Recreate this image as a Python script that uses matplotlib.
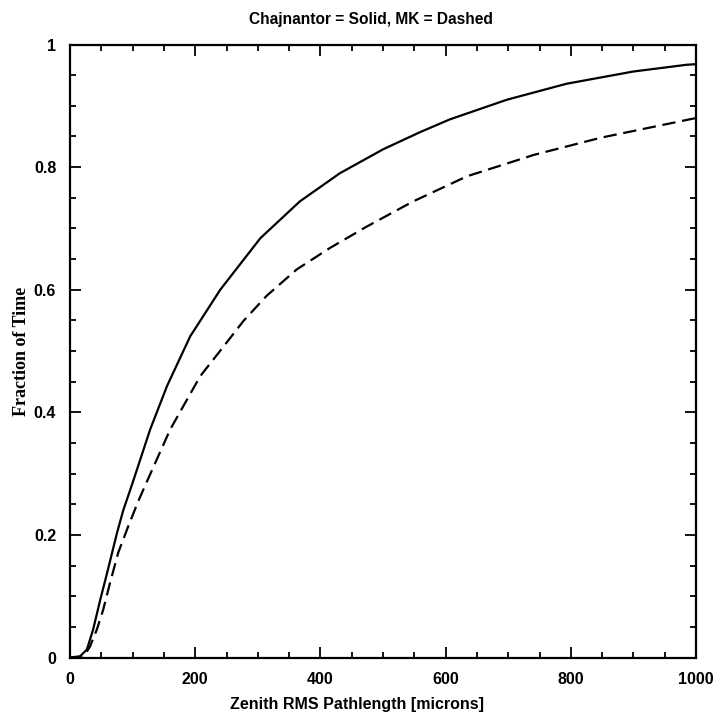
import numpy as np
import matplotlib
matplotlib.use('Agg')
import matplotlib.pyplot as plt
from matplotlib.ticker import MultipleLocator, FuncFormatter

# values
x_solid = [0, 16, 27, 37, 48, 59, 67, 75, 85, 100, 128, 155, 192, 240, 304, 367,
           431, 500, 559, 607, 698, 793, 900, 985, 1000]
y_solid = [0, 0.002, 0.013, 0.046, 0.093, 0.137, 0.170, 0.203, 0.240, 0.285,
           0.372, 0.443, 0.524, 0.600, 0.684, 0.744, 0.790, 0.829, 0.857, 0.878,
           0.910, 0.936, 0.956, 0.967, 0.968]

x_dash = [0, 21, 32, 43, 53, 64, 77, 93, 109, 125, 160, 208, 245, 277, 314, 362,
          415, 474, 548, 634, 741, 848, 990, 1000]
y_dash = [0, 0, 0.018, 0.046, 0.078, 0.122, 0.171, 0.214, 0.255, 0.292, 0.372,
          0.459, 0.507, 0.549, 0.590, 0.633, 0.668, 0.703, 0.744, 0.785, 0.820,
          0.848, 0.878, 0.880]

x_ticks = [0, 200, 400, 600, 800, 1000]
y_ticks = [0, 0.2, 0.4, 0.6, 0.8, 1]

fig = plt.figure(figsize=(7.13, 7.16), dpi=100)
ax = fig.add_axes([0.0982, 0.0817, 0.878, 0.8561])

ax.plot(x_solid, y_solid, 'k-', lw=1.6)
ax.plot(x_dash, y_dash, 'k--', lw=1.6, dashes=(6, 3))

ax.set_xlim(0, 1000)
ax.set_ylim(0, 1)
ax.set_xticks(x_ticks)
ax.set_yticks(y_ticks)
ax.xaxis.set_minor_locator(MultipleLocator(50))
ax.yaxis.set_minor_locator(MultipleLocator(0.05))
ax.yaxis.set_major_formatter(FuncFormatter(lambda v, p: '%g' % v))

ax.tick_params(which='both', direction='in', top=True, right=True, width=1.3)
ax.tick_params(which='major', length=8, labelsize=11.5)
ax.tick_params(axis='x', which='major', pad=10.5)
ax.tick_params(axis='y', which='major', pad=10)
ax.tick_params(which='minor', length=4)
for lab in ax.get_xticklabels() + ax.get_yticklabels():
    lab.set_fontfamily('Liberation Sans')
    lab.set_fontweight('bold')
for s in ax.spines.values():
    s.set_linewidth(1.6)

ax.set_xlabel('Zenith RMS Pathlength [microns]', fontfamily='Liberation Sans',
              fontweight='bold', fontsize=11.5, va='top')
ax.xaxis.set_label_coords(0.459, -0.0645)
ax.set_ylabel('Fraction of Time', fontfamily='Liberation Serif', fontweight='bold',
              fontsize=13, va='center')
ax.yaxis.set_label_coords(-0.077, 0.5)
ax.text(0.481, 1.0327, 'Chajnantor = Solid, MK = Dashed', transform=ax.transAxes,
        ha='center', va='baseline', fontfamily='Liberation Sans',
        fontweight='bold', fontsize=11.2)

fig.savefig('out.png', dpi=100)
